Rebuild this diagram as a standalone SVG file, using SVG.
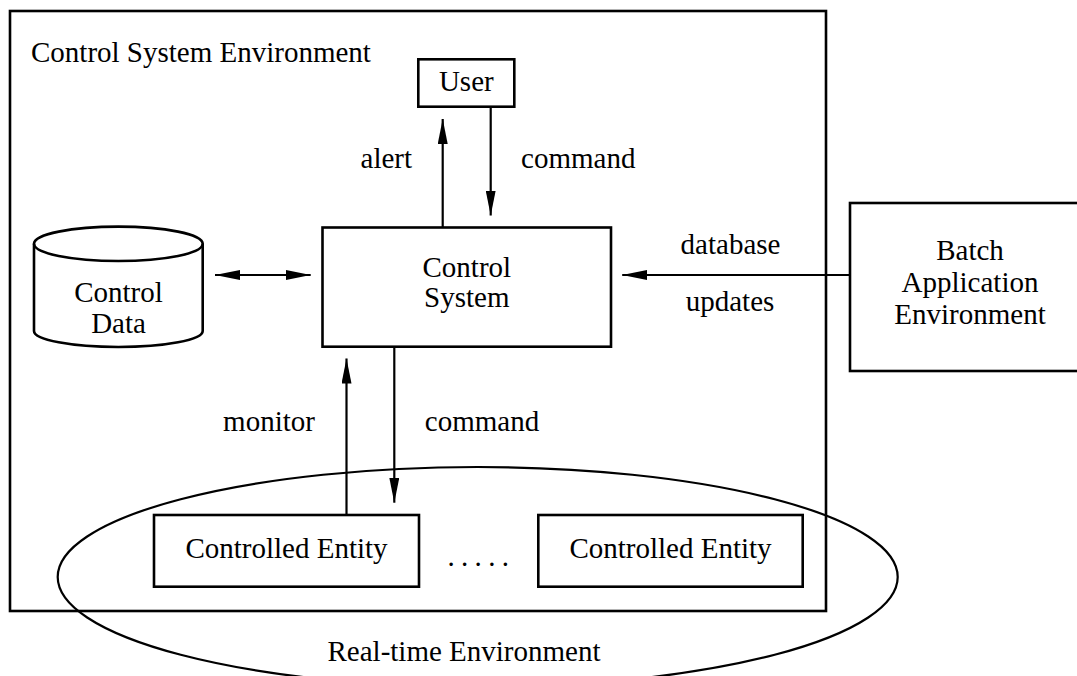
<svg xmlns="http://www.w3.org/2000/svg" width="1077" height="676" viewBox="0 0 1077 676">
<style>
  .box { fill: none; stroke: #000; stroke-width: 2.6; }
  .env { fill: none; stroke: #000; stroke-width: 2.2; }
  .conn { fill: none; stroke: #000; stroke-width: 2.2; }
  text { font-family: "Liberation Serif", "Times New Roman", serif; font-size: 29px; fill: #000; }
  .mid { text-anchor: middle; }
</style>
<defs>
  <marker id="arrow" markerUnits="userSpaceOnUse" markerWidth="26" markerHeight="10" refX="25" refY="5" orient="auto-start-reverse" viewBox="0 0 26 10">
    <path d="M0,0 L25,5 L0,10 z" fill="#000"/>
  </marker>
</defs>
<rect width="1077" height="676" fill="#fff"/>

<g id="control-system-environment">
  <rect class="box" x="10" y="11" width="816" height="600"/>
  <text x="31" y="62">Control System Environment</text>
</g>

<g id="real-time-environment">
  <ellipse class="env" cx="477.7" cy="577" rx="420" ry="110"/>
  <text class="mid" x="464" y="661">Real-time Environment</text>
</g>

<g id="user">
  <rect class="box" x="418.3" y="59.3" width="96" height="47.4"/>
  <text class="mid" x="466.3" y="91">User</text>
</g>

<g id="control-system">
  <rect class="box" x="322.5" y="227.5" width="288.5" height="119.2"/>
  <text class="mid" x="466.8" y="277">Control</text>
  <text class="mid" x="466.8" y="307">System</text>
</g>

<g id="control-data">
  <path class="box" d="M34,243.8 A84.3,17.2 0 0 1 202.7,243.8 L202.7,331 A84.3,16 0 0 1 34,331 Z"/>
  <path class="box" d="M34,243.8 A84.3,17.2 0 0 0 202.7,243.8"/>
  <text class="mid" x="118.5" y="301.5">Control</text>
  <text class="mid" x="118.5" y="333.3">Data</text>
</g>

<g id="batch-application-environment">
  <rect class="box" x="850" y="203" width="240" height="168"/>
  <text class="mid" x="970" y="260">Batch</text>
  <text class="mid" x="970" y="291.7">Application</text>
  <text class="mid" x="970" y="323.5">Environment</text>
</g>

<g id="controlled-entity-1">
  <rect class="box" x="154" y="515" width="265" height="71.7"/>
  <text class="mid" x="286.5" y="558.3">Controlled Entity</text>
</g>

<g id="controlled-entity-2">
  <rect class="box" x="538.3" y="515" width="264.4" height="71.7"/>
  <text class="mid" x="670.5" y="558.3">Controlled Entity</text>
</g>

<g id="ellipsis">
  <text x="447.5" y="566" letter-spacing="6.3">.....</text>
</g>

<g id="connectors">
  <line class="conn" x1="442.7" y1="227.5" x2="442.7" y2="119" marker-end="url(#arrow)"/>
  <line class="conn" x1="490.7" y1="106.7" x2="490.7" y2="215.5" marker-end="url(#arrow)"/>
  <line class="conn" x1="215" y1="275" x2="310.7" y2="275" marker-start="url(#arrow)" marker-end="url(#arrow)"/>
  <line class="conn" x1="850" y1="275" x2="622.2" y2="275" marker-end="url(#arrow)"/>
  <line class="conn" x1="346.5" y1="515" x2="346.5" y2="358.5" marker-end="url(#arrow)"/>
  <line class="conn" x1="394.3" y1="346.7" x2="394.3" y2="502.7" marker-end="url(#arrow)"/>
  <text class="mid" x="386.3" y="168.3">alert</text>
  <text class="mid" x="578.3" y="168.3">command</text>
  <text class="mid" x="730.5" y="254">database</text>
  <text class="mid" x="730" y="310.5">updates</text>
  <text class="mid" x="269" y="431">monitor</text>
  <text class="mid" x="482" y="431">command</text>
</g>
</svg>
